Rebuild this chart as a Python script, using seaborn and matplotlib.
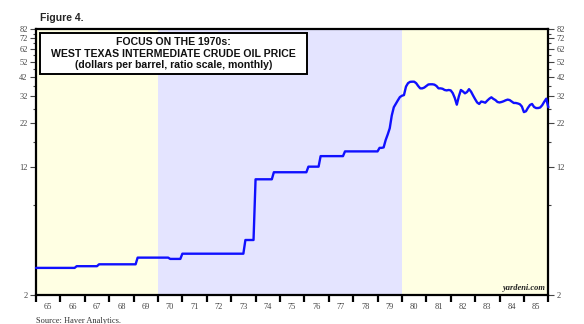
import numpy as np
import pandas as pd
import matplotlib
matplotlib.use("Agg")
import matplotlib.pyplot as plt
from matplotlib.patches import Rectangle
from matplotlib.ticker import FixedLocator, NullFormatter
import seaborn as sns

# Monthly WTI crude oil price, dollars per barrel (Jan..Dec)
p1965 = [2.92] * 12
p1966 = [2.92] * 8 + [2.99] * 4
p1967 = [2.99] * 7 + [3.07] * 5
p1968 = [3.07] * 12
p1969 = [3.07] * 2 + [3.37] * 10
p1970 = [3.37] * 6 + [3.31] * 6
p1971 = [3.56] * 12
p1972 = [3.56] * 12
p1973 = [3.56] * 7 + [4.31] * 5
p1974 = [10.06] * 9 + [11.10] * 3
p1975 = [11.10] * 12
p1976 = [11.10] * 2 + [12.00] * 6 + [13.90] * 4
p1977 = [13.90] * 8 + [14.85] * 4
p1978 = [14.85] * 12
p1979 = [14.85, 15.60, 15.60, 15.70, 17.40, 18.80, 20.50, 24.50, 27.50, 28.90, 30.30, 31.70]
p1980 = [32.30, 32.60, 36.70, 38.50, 39.20, 39.30, 39.30, 38.50, 37.00, 35.80, 35.80, 36.20]
p1981 = [37.00, 37.80, 37.90, 37.90, 37.70, 37.00, 35.80, 35.80, 35.60, 35.00, 34.80, 35.00]
p1982 = [34.80, 33.50, 31.30, 28.50, 32.00, 35.00, 34.30, 33.40, 34.00, 35.40, 34.20, 32.40]
p1983 = [30.80, 29.40, 28.80, 29.80, 29.60, 29.30, 30.20, 31.00, 31.60, 30.90, 30.40, 29.60]
p1984 = [29.40, 29.60, 29.90, 30.30, 30.60, 30.40, 29.80, 29.20, 29.20, 29.00, 28.70, 27.80]
p1985 = [25.70, 26.00, 27.30, 28.40, 28.80, 27.60, 27.20, 27.20, 27.40, 28.30, 29.70, 31.00]
p1986 = [27.50]

yearly = [p1965, p1966, p1967, p1968, p1969, p1970, p1971, p1972, p1973, p1974,
          p1975, p1976, p1977, p1978, p1979, p1980, p1981, p1982, p1983, p1984,
          p1985, p1986]
start_year = 1965

y_ticks = [2, 12, 22, 32, 42, 52, 62, 72, 82]
y_minor = [7, 17, 27, 37, 47, 57, 67, 77]
x_labels = ["65", "66", "67", "68", "69", "70", "71", "72", "73", "74", "75",
            "76", "77", "78", "79", "80", "81", "82", "83", "84", "85"]

title_lines = ["FOCUS ON THE 1970s:",
               "WEST TEXAS INTERMEDIATE CRUDE OIL PRICE",
               "(dollars per barrel, ratio scale, monthly)"]

rows = []
for i, vals in enumerate(yearly):
    for m, v in enumerate(vals):
        rows.append({"date": start_year + i + m / 12.0, "price": v})
df = pd.DataFrame(rows)

sns.set_style("white")
plt.rcParams["font.family"] = ["Liberation Sans", "DejaVu Sans"]

fig = plt.figure(figsize=(5.84, 3.24), dpi=100)
ax = fig.add_axes([36 / 584, 1 - 295 / 324, (548.3 - 36) / 584, (295 - 29) / 324])

# decade shading
ax.axvspan(1965, 1970, color="#FFFFE3", zorder=0, lw=0)
ax.axvspan(1970, 1980, color="#E4E4FF", zorder=0, lw=0)
ax.axvspan(1980, 1986, color="#FFFFE3", zorder=0, lw=0)

sns.lineplot(data=df, x="date", y="price", ax=ax, color="#1010FF", lw=1.7,
             zorder=3, clip_on=False)

ax.set_yscale("log")
ax.set_ylim(2, 82)
ax.set_xlim(1965, 1986)
ax.set_xlabel("")
ax.set_ylabel("")

serif = ["Liberation Serif", "DejaVu Serif"]

ax.yaxis.set_major_locator(FixedLocator(y_ticks))
ax.yaxis.set_minor_locator(FixedLocator(y_minor))
ax.yaxis.set_minor_formatter(NullFormatter())
ax.set_yticklabels([str(t) for t in y_ticks])
ax.tick_params(axis="y", which="major", direction="out", length=4, width=0.8,
               left=True, right=True, labelleft=True, labelright=True,
               labelsize=6, colors="#444444", pad=2)
ax.tick_params(axis="y", which="minor", direction="out", length=2.5, width=0.8,
               left=True, right=True, colors="#444444")
for lab in ax.get_yticklabels():
    lab.set_family(serif)

years = list(range(1965, 1987))
ax.xaxis.set_major_locator(FixedLocator(years))
ax.xaxis.set_minor_locator(FixedLocator([y + 0.5 for y in years[:-1]]))
ax.xaxis.set_major_formatter(NullFormatter())
ax.set_xticklabels(x_labels, minor=True)
ax.tick_params(axis="x", which="major", direction="out", length=5, width=1.6,
               colors="black", bottom=True)
ax.tick_params(axis="x", which="minor", length=0, labelsize=6,
               labelcolor="#444444", pad=6)
for lab in ax.get_xticklabels(minor=True):
    lab.set_family(serif)

for s in ax.spines.values():
    s.set_visible(True)
    s.set_color("black")
    s.set_linewidth(1.6)
ax.grid(False)

# title box
ax.add_patch(Rectangle((0.0078, 0.8308), 0.5212, 0.1541, transform=ax.transAxes,
                       fc="white", ec="black", lw=1.4, zorder=5))
for txt, yy in zip(title_lines, [0.951, 0.906, 0.865]):
    ax.text(0.2684, yy, txt, transform=ax.transAxes, ha="center", va="center",
            fontsize=7.6, fontweight="bold", zorder=6, color="#111111")

ax.text(0.995, 0.012, "yardeni.com", transform=ax.transAxes, ha="right",
        va="bottom", fontsize=6, fontweight="bold", fontstyle="italic",
        family=serif, color="#222222")

fig.text(40 / 584, 1 - 18 / 324, "Figure 4.", ha="left", va="center",
         fontsize=7.5, fontweight="bold")
fig.text(36 / 584, 1 - 317 / 324, "Source: Haver Analytics.", ha="left",
         va="top", fontsize=6, family=serif, color="#333333")

fig.savefig("out.png", dpi=100)
